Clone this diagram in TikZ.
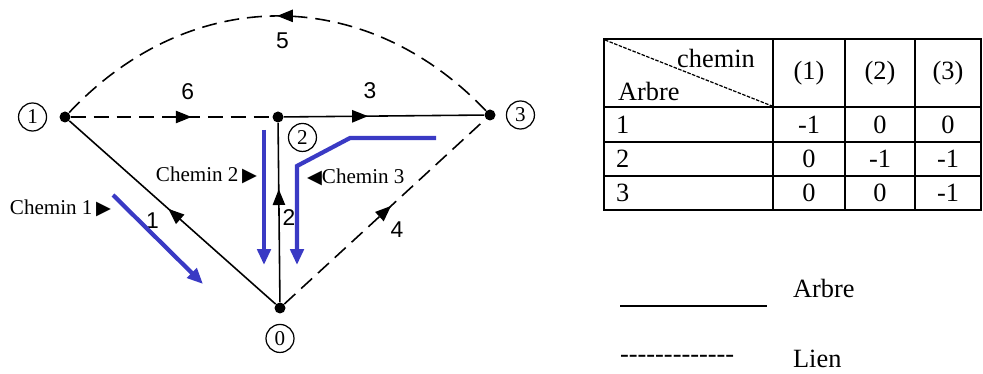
\documentclass[tikz,border=0pt]{standalone}
\usepackage{fontspec}
\setmainfont{Liberation Serif}
\setsansfont{Liberation Sans}
\newfontfamily\symbfont{DejaVu Sans}
\newcommand{\trifont}{\symbfont\fontsize{11}{13}\selectfont}
\usepackage{tikz}
\usetikzlibrary{arrows.meta, decorations.markings, positioning}
\usepackage{xcolor}
\definecolor{pathblue}{RGB}{58, 58, 196}

\begin{document}
\begin{tikzpicture}[
  x=0.02cm, y=-0.02cm,
  dot/.style       = {circle, fill, inner sep=0pt, minimum size=0.22cm},
  vertex/.style    = {circle, draw, line width=0.7pt, inner sep=0pt,
                      minimum size=0.56cm, font=\fontsize{12}{14}\selectfont},
  tree/.style      = {line width=0.9pt},
  link/.style      = {line width=0.9pt, dash pattern=on 8.5pt off 4.5pt},
  midarrow/.style  = {postaction={decorate}, decoration={markings,
                      mark=at position #1 with {\arrow{Triangle[length=9pt, width=7pt]}}}},
  num/.style       = {inner sep=1pt, font=\sffamily\fontsize{13}{15}\selectfont},
  chemlabel/.style = {inner sep=1pt, font=\fontsize{12}{14}\selectfont},
  bluepath/.style  = {draw=pathblue, line width=2.4pt, -{Triangle[length=9pt, width=7.5pt]}},
  cell/.style      = {inner sep=1pt, font=\fontsize{15}{18}\selectfont},
  grid/.style      = {line width=1pt}
]
\useasboundingbox (0,0) rectangle (983,374);

%% Graph vertices
\node[dot] (n1) at (65,117) {};
\node[dot] (n2) at (278,117) {};
\node[dot] (n3) at (490,115) {};
\node[dot] (n0) at (280,308) {};

\node[vertex, left=0.24cm of n1] (v1) {1};
\node[vertex, below right=0.12cm and 0.2cm of n2] (v2) {2};
\node[vertex, right=0.2cm of n3] (v3) {3};
\node[vertex, below=0.2cm of n0] (v0) {0};

%% Tree edges
\draw[tree, midarrow=0.42] (n2) -- node[num, pos=0.43, above=0.3cm] {3} (n3);
\draw[tree, midarrow=0.52] (n0) -- node[num, pos=0.53, below left=0.06cm and 0.1cm] {1} (n1);
\draw[tree, midarrow=0.63] (n0) -- node[num, pos=0.47, right=0.02cm] {2} (n2);

%% Links
\draw[link, midarrow=0.6] (n1) -- node[num, pos=0.58, above=0.3cm] {6} (n2);
\draw[link, midarrow=0.53] (n0) -- node[num, pos=0.56, below=0.38cm] {4} (n3);
\draw[link, midarrow=0.5] (n3) .. controls (365,-16) and (190,-16) ..
  node[num, pos=0.5, below=0.28cm, xshift=0.1cm] {5} (n1);

%% Paths (chemins)
\coordinate (ch1a) at (113,195);
\coordinate (ch1b) at (203,284);
\coordinate (ch2a) at (264,130);
\coordinate (ch2b) at (264,265);
\coordinate (ch3a) at (436,138);
\coordinate (ch3b) at (350,138);
\coordinate (ch3c) at (297,166);
\coordinate (ch3d) at (297,265);

\draw[bluepath] (ch1a) -- (ch1b);
\draw[bluepath] (ch2a) -- (ch2b);
\draw[bluepath] (ch3a) -- (ch3b) -- (ch3c) -- (ch3d);

\node[chemlabel, anchor=east] (lab1) at (113,208) {Chemin 1\,{\trifont ▶}};
\node[chemlabel, anchor=east] (lab2) at (259,175) {Chemin 2\,{\trifont ▶}};
\node[chemlabel, anchor=west] (lab3) at (305,177) {{\trifont ◀}Chemin 3};

%% Table
\draw[grid] (604,39) rectangle (981,210);
\foreach \y in {107,142,176}
  \draw[grid] (604,\y) -- (981,\y);
\foreach \x in {773,845,915}
  \draw[grid] (\x,39) -- (\x,210);
\draw[line width=0.7pt, dash pattern=on 2pt off 0.8pt] (605,40) -- (772,106);

\node[cell] (hchemin) at (716,58) {chemin};
\node[cell, anchor=west] (harbre) at (616,91) {Arbre};
\node[cell] (hc1) at (809,73) {(1)};
\node[cell] (hc2) at (880,73) {(2)};
\node[cell] (hc3) at (948,73) {(3)};

\foreach \r/\yy/\a/\b/\c in {1/125/-1/0/0, 2/159/0/-1/-1, 3/193/0/0/-1} {
  \node[cell, anchor=west] (row\r) at (614,\yy) {\r};
  \node[cell] at (809,\yy) {\a};
  \node[cell] at (880,\yy) {\b};
  \node[cell] at (948,\yy) {\c};
}

%% Legend
\coordinate (lga) at (620,306);
\coordinate (lgb) at (767,306);
\draw[line width=1pt] (lga) -- (lgb);
\node[cell, anchor=west] (legarbre) at (791,288) {Arbre};
\node[cell, anchor=west, font=\fontsize{15}{18}\selectfont] (legdash) at (618,359)
  {-{}-{}-{}-{}-{}-{}-{}-{}-{}-{}-{}-{}-};
\node[cell, anchor=west] (leglien) at (791,359) {Lien};

\end{tikzpicture}
\end{document}
